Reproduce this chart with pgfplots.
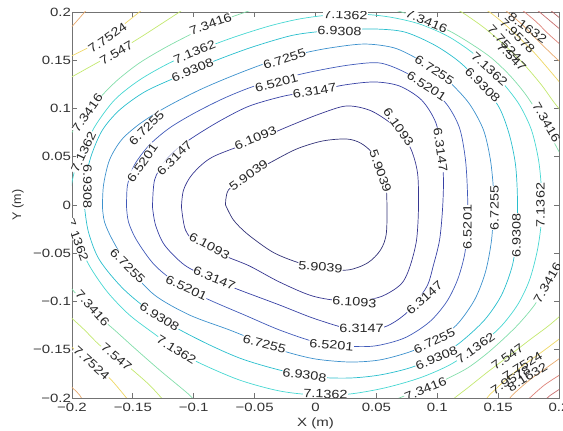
\documentclass[border=0pt]{standalone}
\usepackage{fontspec}
\setmainfont{Liberation Sans}
\newfontfamily\tkfam[FakeStretch=1.25]{Liberation Sans}
\newfontfamily\clfam[FakeStretch=1.2]{Liberation Sans}
\usepackage{pgfplots}
\pgfplotsset{compat=1.18}
\newcommand\tkf{\tkfam\fontsize{12pt}{13pt}\selectfont}
\newcommand\clf{\clfam\fontsize{12pt}{13pt}\selectfont}
\definecolor{c1}{RGB}{50,50,120}
\definecolor{c2}{RGB}{55,55,145}
\definecolor{c3}{RGB}{55,65,165}
\definecolor{c4}{RGB}{65,90,185}
\definecolor{c5}{RGB}{60,145,205}
\definecolor{c6}{RGB}{40,190,205}
\definecolor{c7}{RGB}{70,215,210}
\definecolor{c8}{RGB}{130,222,170}
\definecolor{c9}{RGB}{195,232,110}
\definecolor{c10}{RGB}{238,215,100}
\definecolor{c11}{RGB}{232,170,110}
\definecolor{c12}{RGB}{222,130,120}
\definecolor{c13}{RGB}{200,110,110}
\definecolor{c14}{RGB}{180,100,100}
\tikzset{cl/.style={font=\clf, fill=white, inner sep=0.4pt, text=black!85},
         cln/.style={font=\clf, inner sep=0.4pt, text=black!85}}
\begin{document}
\begin{tikzpicture}
\begin{axis}[
  at={(0,0)}, anchor=south west,
  scale only axis, width=487pt, height=386pt,
  xmin=-0.2, xmax=0.2, ymin=-0.2, ymax=0.2,
  xtick={-0.2,-0.15,-0.1,-0.05,0,0.05,0.1,0.15,0.2},
  ytick={-0.2,-0.15,-0.1,-0.05,0,0.05,0.1,0.15,0.2},
  xticklabels={−0.2,−0.15,−0.1,−0.05,0,0.05,0.1,0.15,0.2},
  yticklabels={−0.2,−0.15,−0.1,−0.05,0,0.05,0.1,0.15,0.2},
  tick align=inside, major tick length=5pt,
  axis line style={black!55, line width=0.8pt},
  every tick/.style={black!55, line width=0.8pt},
  ticklabel style={font=\tkf, text=black!80},
  yticklabel style={inner xsep=0.8pt},
  xticklabel style={inner ysep=4.5pt},
  xlabel={X (m)}, ylabel={Y (m)},
  every axis x label/.style={at={(axis description cs:0.5,-0.0648)}, anchor=center, font=\tkf, text=black!80},
  every axis y label/.style={at={(axis description cs:-0.111,0.5)}, anchor=center, rotate=90, font=\fontsize{12.5pt}{13pt}\selectfont, text=black!80},
  every axis plot/.append style={line width=0.7pt, smooth, mark=none},
]
% 5.9039
\addplot[c1] coordinates {(-0.0739,0) (-0.0715,0.0155) (-0.0559,0.0311) (-0.0378,0.0435) (-0.0156,0.0580) (0.0057,0.0663) (0.0255,0.0684) (0.0370,0.0642) (0.0468,0.0539) (0.0550,0.0363) (0.0583,0.0155) (0.0583,-0.0280) (0.0534,-0.0466) (0.0427,-0.0601) (0.0263,-0.0674) (0.0033,-0.0653) (-0.0156,-0.0591) (-0.0353,-0.0487) (-0.0559,-0.0301) (-0.0674,-0.0155) (-0.0739,0)};
% 6.1093
\addplot[c2] coordinates {(-0.1101,-0.0021) (-0.1068,-0.0259) (-0.0969,-0.0404) (-0.0723,-0.0539) (-0.0542,-0.0632) (-0.0296,-0.0798) (-0.0025,-0.0943) (0.0238,-0.0995) (0.0501,-0.0964) (0.0641,-0.0881) (0.0723,-0.0788) (0.0780,-0.0622) (0.0830,-0.0363) (0.0846,-0.0021) (0.0838,0.0332) (0.0780,0.0591) (0.0665,0.0798) (0.0460,0.0974) (0.0255,0.1026) (0.0033,0.0943) (-0.0214,0.0819) (-0.0485,0.0674) (-0.0846,0.0497) (-0.1010,0.0321) (-0.1084,0.0155) (-0.1101,-0.0021)};
% 6.3147
\addplot[c3] coordinates {(-0.1339,-0.0021) (-0.1322,0.0259) (-0.1240,0.0446) (-0.1117,0.0601) (-0.0977,0.0725) (-0.0772,0.0881) (-0.0542,0.1026) (-0.0255,0.1130) (0,0.1181) (0.0238,0.1244) (0.0485,0.1275) (0.0690,0.1233) (0.0871,0.1088) (0.0986,0.0860) (0.1035,0.0570) (0.1051,0.0259) (0.1043,-0.0052) (0.1019,-0.0363) (0.0969,-0.0622) (0.0912,-0.0850) (0.0756,-0.1109) (0.0567,-0.1264) (0.0320,-0.1295) (0,-0.1181) (-0.0296,-0.1036) (-0.0624,-0.0881) (-0.0871,-0.0756) (-0.1076,-0.0622) (-0.1240,-0.0415) (-0.1314,-0.0207) (-0.1339,-0.0021)};
% 6.5201
\addplot[c4] coordinates {(-0.1552,-0.0021) (-0.1544,0.0207) (-0.1487,0.0415) (-0.1364,0.0622) (-0.1199,0.0798) (-0.0994,0.0953) (-0.0747,0.1109) (-0.0501,0.1233) (-0.0255,0.1316) (0,0.1389) (0.0279,0.1451) (0.0526,0.1472) (0.0731,0.1378) (0.0912,0.1233) (0.1076,0.1047) (0.1183,0.0798) (0.1232,0.0466) (0.1249,0.0104) (0.1249,-0.0228) (0.1224,-0.0518) (0.1166,-0.0777) (0.1076,-0.1005) (0.0936,-0.1212) (0.0731,-0.1378) (0.0485,-0.1461) (0.0238,-0.1461) (0,-0.1420) (-0.0296,-0.1295) (-0.0583,-0.1140) (-0.0871,-0.0984) (-0.1117,-0.0829) (-0.1322,-0.0622) (-0.1470,-0.0363) (-0.1536,-0.0176) (-0.1552,-0.0021)};
% 6.7255
\addplot[c5] coordinates {(-0.1750,-0.0021) (-0.1741,0.0207) (-0.1692,0.0466) (-0.1594,0.0674) (-0.1446,0.0839) (-0.1240,0.1005) (-0.0953,0.1192) (-0.0665,0.1347) (-0.0378,0.1482) (-0.0131,0.1565) (0.0115,0.1627) (0.0402,0.1668) (0.0649,0.1627) (0.0854,0.1503) (0.0977,0.1399) (0.1117,0.1254) (0.1265,0.1047) (0.1380,0.0777) (0.1437,0.0466) (0.1462,0.0155) (0.1462,-0.0031) (0.1446,-0.0363) (0.1396,-0.0694) (0.1306,-0.0984) (0.1158,-0.1244) (0.0977,-0.1409) (0.0772,-0.1523) (0.0526,-0.1606) (0.0279,-0.1627) (0,-0.1596) (-0.0238,-0.1523) (-0.0419,-0.1440) (-0.0706,-0.1295) (-0.1035,-0.1140) (-0.1322,-0.0933) (-0.1528,-0.0653) (-0.1667,-0.0363) (-0.1733,-0.0176) (-0.1750,-0.0021)};
% 6.9308
\addplot[c6] coordinates {(-0.1897,-0.0021) (-0.1889,0.0259) (-0.1840,0.0518) (-0.1750,0.0777) (-0.1610,0.0984) (-0.1405,0.1171) (-0.1158,0.1316) (-0.0871,0.1472) (-0.0542,0.1627) (-0.0214,0.1751) (0,0.1793) (0.0238,0.1814) (0.0485,0.1824) (0.0731,0.1793) (0.0977,0.1658) (0.1183,0.1482) (0.1372,0.1244) (0.1511,0.1005) (0.1593,0.0725) (0.1643,0.0415) (0.1659,0.0052) (0.1651,-0.0311) (0.1618,-0.0622) (0.1528,-0.0933) (0.1388,-0.1192) (0.1183,-0.1430) (0.0994,-0.1575) (0.0772,-0.1689) (0.0526,-0.1762) (0.0279,-0.1793) (0,-0.1782) (-0.0296,-0.1710) (-0.0624,-0.1586) (-0.0953,-0.1399) (-0.1281,-0.1171) (-0.1569,-0.0881) (-0.1774,-0.0570) (-0.1865,-0.0280) (-0.1897,-0.0021)};
% 7.1362
\addplot[c7] coordinates {(-0.2021,0) (-0.2004,0.0207) (-0.1971,0.0383) (-0.1906,0.0549) (-0.1815,0.0808) (-0.1651,0.1088) (-0.1446,0.1295) (-0.1199,0.1472) (-0.0953,0.1606) (-0.0665,0.1741) (-0.0378,0.1855) (-0.0131,0.1928) (0.0115,0.1969) (0.0361,0.1979) (0.0608,0.1948) (0.0854,0.1876) (0.1084,0.1751) (0.1281,0.1586) (0.1429,0.1409) (0.1552,0.1244) (0.1676,0.1036) (0.1774,0.0777) (0.1832,0.0466) (0.1856,0.0155) (0.1856,-0.0155) (0.1823,-0.0466) (0.1758,-0.0777) (0.1659,-0.1036) (0.1511,-0.1275) (0.1314,-0.1482) (0.1101,-0.1658) (0.0854,-0.1793) (0.0567,-0.1896) (0.0279,-0.1959) (0,-0.1969) (-0.0296,-0.1927) (-0.0624,-0.1814) (-0.0953,-0.1637) (-0.1142,-0.1503) (-0.1322,-0.1337) (-0.1528,-0.1140) (-0.1709,-0.0902) (-0.1856,-0.0632) (-0.1955,-0.0363) (-0.2004,-0.0176) (-0.2021,0)};
% 7.3416
\addplot[c8] coordinates {(-0.2037,0.0674) (-0.2004,0.0746) (-0.1938,0.0860) (-0.1873,0.0964) (-0.1774,0.1109) (-0.1626,0.1295) (-0.1446,0.1472) (-0.1240,0.1627) (-0.1035,0.1762) (-0.0862,0.1865) (-0.0690,0.1948) (-0.0501,0.2031)};
\addplot[c8] coordinates {(0.0624,0.2031) (0.0731,0.1990) (0.0912,0.1907) (0.1101,0.1803) (0.1281,0.1668) (0.1446,0.1523) (0.1593,0.1347) (0.1717,0.1161) (0.1823,0.0964) (0.1897,0.0829) (0.1963,0.0642) (0.2029,0.0487)};
\addplot[c8] coordinates {(0.2029,-0.0570) (0.1947,-0.0725) (0.1897,-0.0829) (0.1799,-0.1036) (0.1676,-0.1223) (0.1552,-0.1378) (0.1413,-0.1534) (0.1249,-0.1689) (0.1060,-0.1814) (0.0904,-0.1907) (0.0731,-0.1979) (0.0608,-0.2041)};
\addplot[c8] coordinates {(-0.2037,-0.0808) (-0.1980,-0.0902) (-0.1873,-0.1036) (-0.1774,-0.1161) (-0.1651,-0.1295) (-0.1487,-0.1482) (-0.1281,-0.1710) (-0.1035,-0.1969) (-0.0994,-0.2041)};
% 7.547
\addplot[c9] coordinates {(-0.2037,0.1306) (-0.2004,0.1326) (-0.1856,0.1430) (-0.1635,0.1586) (-0.1446,0.1731) (-0.1281,0.1865) (-0.1117,0.2000) (-0.1076,0.2042)};
\addplot[c9] coordinates {(0.1117,0.2042) (0.1199,0.2000) (0.1388,0.1834) (0.1569,0.1637) (0.1717,0.1451) (0.1856,0.1244) (0.1963,0.1057) (0.2045,0.0933)};
\addplot[c9] coordinates {(0.2045,-0.1109) (0.1922,-0.1244) (0.1758,-0.1399) (0.1577,-0.1575) (0.1413,-0.1731) (0.1249,-0.1896) (0.1142,-0.2000) (0.1101,-0.2052)};
\addplot[c9] coordinates {(-0.2037,-0.1140) (-0.2004,-0.1171) (-0.1897,-0.1295) (-0.1774,-0.1451) (-0.1635,-0.1575) (-0.1503,-0.1710) (-0.1364,-0.1865) (-0.1265,-0.2000) (-0.1240,-0.2041)};
% 7.7524
\addplot[c10] coordinates {(-0.2037,0.1523) (-0.2004,0.1544) (-0.1856,0.1637) (-0.1709,0.1741) (-0.1569,0.1876) (-0.1446,0.2000) (-0.1405,0.2042)};
\addplot[c10] coordinates {(0.1364,0.2042) (0.1429,0.2000) (0.1552,0.1876) (0.1676,0.1731) (0.1799,0.1575) (0.1906,0.1420) (0.2045,0.1212)};
\addplot[c10] coordinates {(0.2045,-0.1347) (0.1881,-0.1503) (0.1700,-0.1668) (0.1552,-0.1824) (0.1429,-0.1969) (0.1388,-0.2041)};
\addplot[c10] coordinates {(-0.2037,-0.1451) (-0.2004,-0.1472) (-0.1840,-0.1637) (-0.1692,-0.1793) (-0.1552,-0.2000) (-0.1528,-0.2041)};
% 7.9578
\addplot[c11] coordinates {(-0.2037,0.1814) (-0.2004,0.1845) (-0.1938,0.1938) (-0.1881,0.2021)};
\addplot[c11] coordinates {(0.1536,0.2042) (0.1577,0.2000) (0.1692,0.1876) (0.1815,0.1720) (0.1922,0.1586) (0.2045,0.1440)};
\addplot[c11] coordinates {(0.2045,-0.1554) (0.1906,-0.1679) (0.1758,-0.1814) (0.1618,-0.1969) (0.1577,-0.2041)};
\addplot[c11] coordinates {(-0.2037,-0.1865) (-0.2004,-0.1886) (-0.1938,-0.1969) (-0.1906,-0.2041)};
% 8.1632
\addplot[c12] coordinates {(0.1676,0.2042) (0.1717,0.2000) (0.1815,0.1896) (0.1922,0.1762) (0.2045,0.1627)};
\addplot[c12] coordinates {(0.2045,-0.1731) (0.1881,-0.1865) (0.1741,-0.2021) (0.1717,-0.2052)};
% 8.3686
\addplot[c13] coordinates {(0.1799,0.2042) (0.1840,0.2000) (0.1938,0.1896) (0.2045,0.1782)};
\addplot[c13] coordinates {(0.2045,-0.1876) (0.1922,-0.1979) (0.1865,-0.2052)};
% 8.574
\addplot[c14] coordinates {(0.1906,0.2042) (0.1947,0.2000) (0.2045,0.1896)};
\addplot[c14] coordinates {(0.2045,-0.1979) (0.1980,-0.2052)};
% labels
\node[cl,rotate=35] at (axis cs:-0.0550,0.0311) {5.9039};
\node[cl,rotate=-70] at (axis cs:0.0534,0.0352) {5.9039};
\node[cl,rotate=-5] at (axis cs:0.0041,-0.0642) {5.9039};
\node[cl,rotate=22] at (axis cs:-0.0493,0.0694) {6.1093};
\node[cl,rotate=-55] at (axis cs:0.0682,0.0808) {6.1093};
\node[cl,rotate=-28] at (axis cs:-0.0871,-0.0425) {6.1093};
\node[cl,rotate=-4] at (axis cs:0.0320,-0.1005) {6.1093};
\node[cl,rotate=45] at (axis cs:-0.1158,0.0487) {6.3147};
\node[cl,rotate=10] at (axis cs:-0.0008,0.1181) {6.3147};
\node[cl,rotate=-82] at (axis cs:0.1027,0.0570) {6.3147};
\node[cl,rotate=42] at (axis cs:0.0895,-0.0964) {6.3147};
\node[cl,rotate=0] at (axis cs:0.0378,-0.1275) {6.3147};
\node[cl,rotate=-22] at (axis cs:-0.0830,-0.0756) {6.3147};
\node[cl,rotate=55] at (axis cs:-0.1421,0.0435) {6.5201};
\node[cl,rotate=15] at (axis cs:-0.0320,0.1264) {6.5201};
\node[cl,rotate=-33] at (axis cs:0.0912,0.1233) {6.5201};
\node[cl,rotate=90] at (axis cs:0.1249,-0.0228) {6.5201};
\node[cl,rotate=-5] at (axis cs:0.0131,-0.1451) {6.5201};
\node[cl,rotate=-25] at (axis cs:-0.1060,-0.0860) {6.5201};
\node[cl,rotate=45] at (axis cs:-0.1388,0.0798) {6.7255};
\node[cl,rotate=18] at (axis cs:-0.0255,0.1513) {6.7255};
\node[cl,rotate=-33] at (axis cs:0.0977,0.1399) {6.7255};
\node[cl,rotate=90] at (axis cs:0.1470,-0.0031) {6.7255};
\node[cl,rotate=25] at (axis cs:0.0977,-0.1409) {6.7255};
\node[cl,rotate=-15] at (axis cs:-0.0419,-0.1440) {6.7255};
\node[cl,rotate=-45] at (axis cs:-0.1544,-0.0632) {6.7255};
\node[cl,rotate=-90] at (axis cs:-0.1873,0.0187) {6.9308};
\node[cl,rotate=22] at (axis cs:-0.1010,0.1399) {6.9308};
\node[cl,rotate=-2] at (axis cs:0.0197,0.1803) {6.9308};
\node[cl,rotate=-45] at (axis cs:0.1372,0.1244) {6.9308};
\node[cl,rotate=90] at (axis cs:0.1651,-0.0311) {6.9308};
\node[cl,rotate=22] at (axis cs:0.0994,-0.1586) {6.9308};
\node[cl,rotate=-8] at (axis cs:-0.0090,-0.1762) {6.9308};
\node[cl,rotate=-32] at (axis cs:-0.1281,-0.1161) {6.9308};
\node[cl,rotate=65] at (axis cs:-0.1906,0.0549) {7.1362};
\node[cl,rotate=-70] at (axis cs:-0.1955,-0.0363) {7.1362};
\node[cl,rotate=22] at (axis cs:-0.0994,0.1586) {7.1362};
\node[cl,rotate=-2] at (axis cs:0.0246,0.1969) {7.1362};
\node[cl,rotate=-42] at (axis cs:0.1429,0.1409) {7.1362};
\node[cl,rotate=90] at (axis cs:0.1848,0) {7.1362};
\node[cl,rotate=35] at (axis cs:0.1314,-0.1482) {7.1362};
\node[cl,rotate=-2] at (axis cs:0.0082,-0.1959) {7.1362};
\node[cl,rotate=-32] at (axis cs:-0.1142,-0.1503) {7.1362};
\node[cl,rotate=55] at (axis cs:-0.1873,0.0953) {7.3416};
\node[cl,rotate=20] at (axis cs:-0.0862,0.1876) {7.3416};
\node[cl,rotate=-22] at (axis cs:0.0912,0.1907) {7.3416};
\node[cl,rotate=-60] at (axis cs:0.1897,0.0860) {7.3416};
\node[cl,rotate=60] at (axis cs:0.1906,-0.0808) {7.3416};
\node[cl,rotate=22] at (axis cs:0.0904,-0.1907) {7.3416};
\node[cl,rotate=-48] at (axis cs:-0.1832,-0.1067) {7.3416};
\node[cl,rotate=30] at (axis cs:-0.1635,0.1575) {7.547};
\node[cln,rotate=-45] at (axis cs:0.1610,0.1534) {7.547};
\node[cln,rotate=35] at (axis cs:0.1577,-0.1575) {7.547};
\node[cl,rotate=-40] at (axis cs:-0.1635,-0.1575) {7.547};
\node[cl,rotate=35] at (axis cs:-0.1709,0.1731) {7.7524};
\node[cln,rotate=-48] at (axis cs:0.1552,0.1679) {7.7524};
\node[cln,rotate=32] at (axis cs:0.1700,-0.1668) {7.7524};
\node[cl,rotate=-42] at (axis cs:-0.1840,-0.1637) {7.7524};
\node[cln,rotate=-45] at (axis cs:0.1659,0.1751) {7.9578};
\node[cln,rotate=32] at (axis cs:0.1602,-0.1814) {7.9578};
\node[cln,rotate=-35] at (axis cs:0.1741,0.1834) {8.1632};
\node[cln,rotate=32] at (axis cs:0.1741,-0.1782) {8.1632};
\end{axis}
\pgfresetboundingbox
\useasboundingbox (-72pt,-33pt) rectangle (491pt,398pt);
\end{tikzpicture}
\end{document}
